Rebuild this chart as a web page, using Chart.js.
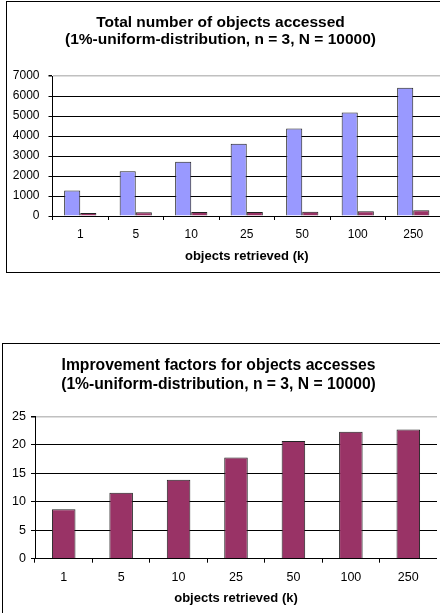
<!DOCTYPE html>
<html>
<head>
<meta charset="utf-8">
<script src="https://cdn.jsdelivr.net/npm/chart.js@4/dist/chart.umd.min.js"></script>
<style>
  html, body { margin: 0; padding: 0; background: #fff; overflow: hidden; }
  body { width: 440px; height: 613px; position: relative; }
  .frame { position: absolute; border: 1.5px solid #000; box-sizing: border-box; }
  #frame1 { left: 6px; top: 1px; width: 446px; height: 272px; }
  #frame2 { left: 2px; top: 343px; width: 450px; height: 290px; }
  canvas { position: absolute; }
  #c1 { left: 0; top: 0; }
  #c2 { left: 0; top: 330px; }
</style>
</head>
<body>
<div class="frame" id="frame1"></div>
<div class="frame" id="frame2"></div>
<canvas id="c1" width="441" height="275"></canvas>
<canvas id="c2" width="437" height="283"></canvas>
<script>
// k values on the x axis
const categories = ['1', '5', '10', '25', '50', '100', '250'];
// total objects accessed, baseline method
const accessedBaseline = [1270, 2240, 2720, 3620, 4380, 5180, 6420];
// total objects accessed, improved method
const accessedImproved = [146, 193, 196, 203, 212, 232, 283];
// improvement factor (baseline / improved)
const improvementFactor = [8.7, 11.6, 13.9, 17.8, 20.7, 22.3, 22.7];

const titleTop = ['Total number of objects accessed', '(1%-uniform-distribution, n = 3, N = 10000)'];
const titleBottom = ['Improvement factors for objects accesses', '(1%-uniform-distribution, n = 3, N = 10000)'];
const xTitle = 'objects retrieved (k)';

const FONT = "'Liberation Sans', Arial, sans-serif";
Chart.defaults.font.family = FONT;
Chart.defaults.color = '#000';

function makeOptions(cfg) {
  return {
    responsive: false,
    animation: false,
    events: [],
    layout: { padding: { left: 0, right: 0, top: cfg.padTop, bottom: 0 } },
    plugins: {
      legend: { display: false },
      tooltip: { enabled: false },
      title: {
        display: true,
        text: cfg.title,
        font: { size: cfg.titleSize, weight: 'bold', lineHeight: cfg.titleLH },
        color: '#000',
        padding: { top: 0, bottom: cfg.titleGap }
      }
    },
    scales: {
      x: {
        offset: true,
        grid: { offset: true, drawOnChartArea: false, drawTicks: true, tickLength: 4, color: '#000', tickColor: '#000' },
        border: { display: true, color: '#000', width: 1 },
        ticks: { font: { size: cfg.tickSize }, padding: cfg.xTickPad, color: '#000', maxRotation: 0 },
        title: { display: true, text: xTitle, font: { size: cfg.axisTitleSize, weight: 'bold' }, color: '#000', padding: { top: 0, bottom: cfg.xTitlePadBottom } },
        afterFit: s => { s.height = cfg.xHeight; }
      },
      y: {
        min: 0,
        max: cfg.yMax,
        ticks: { stepSize: cfg.yStep, font: { size: cfg.tickSize }, padding: cfg.yTickPad, color: '#000', callback: v => String(v) },
        grid: {
          drawTicks: true,
          tickLength: 4,
          tickColor: '#000',
          color: ctx => (ctx.tick && ctx.tick.value === cfg.yMax) ? '#c0c0c0' : '#000',
          lineWidth: ctx => (ctx.tick && ctx.tick.value === cfg.yMax) ? 1.5 : 1
        },
        border: { display: true, color: '#000', width: 1 },
        afterFit: s => { s.width = cfg.yWidth; }
      }
    }
  };
}

new Chart(document.getElementById('c1'), {
  type: 'bar',
  data: {
    labels: categories,
    datasets: [
      { data: accessedBaseline, backgroundColor: '#9999FF', borderColor: '#222', borderWidth: 1, borderSkipped: 'bottom', categoryPercentage: 0.58, barPercentage: 1 },
      { data: accessedImproved, backgroundColor: '#993366', borderColor: '#222', borderWidth: 1, borderSkipped: 'bottom', categoryPercentage: 0.58, barPercentage: 1 }
    ]
  },
  options: makeOptions({
    title: titleTop, titleSize: 15.5, titleLH: 1.1, titleGap: 28, padTop: 14,
    tickSize: 12, axisTitleSize: 13, xTickPad: 7.5, xTitlePadBottom: 11, xHeight: 59,
    yMax: 7000, yStep: 1000, yTickPad: 9, yWidth: 52.5
  })
});

new Chart(document.getElementById('c2'), {
  type: 'bar',
  data: {
    labels: categories,
    datasets: [
      { data: improvementFactor, backgroundColor: '#993366', borderColor: '#222', borderWidth: 1, borderSkipped: 'bottom', categoryPercentage: 0.41, barPercentage: 1 }
    ]
  },
  options: makeOptions({
    title: titleBottom, titleSize: 15.7, titleLH: 1.2, titleGap: 22.3, padTop: 26.5,
    tickSize: 12.5, axisTitleSize: 13, xTickPad: 7, xTitlePadBottom: 7, xHeight: 54.3,
    yMax: 25, yStep: 5, yTickPad: 5, yWidth: 35
  })
});
</script>
</body>
</html>
